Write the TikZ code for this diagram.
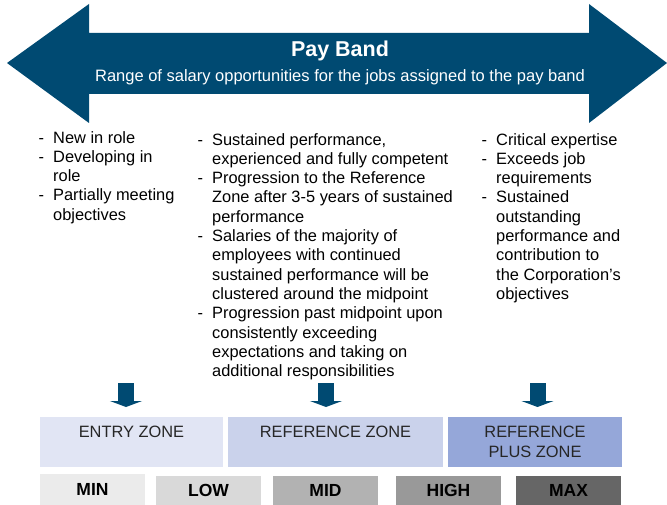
\documentclass[tikz,border=0pt]{standalone}
\usepackage{fontspec}
\setmainfont{Liberation Sans}
\usetikzlibrary{arrows.meta}
\definecolor{bandblue}{HTML}{004A72}
\definecolor{entryfill}{HTML}{E1E5F4}
\definecolor{reffill}{HTML}{CAD2EB}
\definecolor{plusfill}{HTML}{95A7D9}
\newcommand{\dsh}{\llap{-\hspace{9pt}}}

\begin{document}
\begin{tikzpicture}[x=1pt, y=-1pt,
  txt/.style = {anchor=north west, align=left, inner sep=0pt, font=\fontsize{16.4}{19.3}\selectfont},
  zone/.style = {minimum height=50pt, inner sep=0pt, align=center, text=black!85, font=\fontsize{16.4}{20}\selectfont},
  pt/.style = {minimum height=29pt, inner sep=0pt, font=\bfseries\fontsize{17.5}{20}\selectfont},
  downarrow/.style = {bandblue, line width=16pt, -{Triangle[width=32pt, length=6pt]}}]
\useasboundingbox (0,0) rectangle (667,505);

\fill[bandblue] (7,63) -- (89,4) -- (89,33) -- (589,33) -- (589,4) -- (667,63)
  -- (589,123) -- (589,94) -- (89,94) -- (89,123) -- cycle;
\node[text=white, font=\bfseries\fontsize{21.5}{24}\selectfont] (title) at (340,51) {Pay Band};
\node[text=white, font=\fontsize{16.5}{20}\selectfont] (subtitle) at (340,77) {Range of salary opportunities for the jobs assigned to the pay band};

\node[txt] (col_entry) at (53,131) {\dsh New in role\\ \dsh Developing in\\ role\\ \dsh Partially meeting\\ objectives};
\node[txt] (col_ref) at (212,133) {\dsh Sustained performance,\\ experienced and fully competent\\
  \dsh Progression to the Reference\\ Zone after 3-5 years of sustained\\ performance\\
  \dsh Salaries of the majority of\\ employees with continued\\ sustained performance will be\\ clustered around the midpoint\\
  \dsh Progression past midpoint upon\\ consistently exceeding\\ expectations and taking on\\ additional responsibilities};
\node[txt] (col_plus) at (496,133) {\dsh Critical expertise\\ \dsh Exceeds job\\ requirements\\ \dsh Sustained\\ outstanding\\ performance and\\ contribution to\\ the Corporation’s\\ objectives};

\node[zone, fill=entryfill, minimum width=183pt] (entry) at (131.5,442) {ENTRY ZONE\\\mbox{}};
\node[zone, fill=reffill, minimum width=215pt] (reference) at (335.5,442) {REFERENCE ZONE\\\mbox{}};
\node[zone, fill=plusfill, minimum width=174pt] (refplus) at (535,442) {REFERENCE\\PLUS ZONE};

\coordinate (a_entry) at (126,383);
\coordinate (a_ref) at (326,383);
\coordinate (a_plus) at (537.5,383);
\draw[downarrow] (a_entry) -- ++(0,24);
\draw[downarrow] (a_ref) -- ++(0,24);
\draw[downarrow] (a_plus) -- ++(0,24);

\node[pt, fill=black!8, minimum width=105pt, minimum height=31pt] (min) at (92.5,489.5) {MIN};
\node[pt, fill=black!15, minimum width=105pt] (low) at (208.5,490.5) {LOW};
\node[pt, fill=black!30, minimum width=105pt] (mid) at (325.5,490.5) {MID};
\node[pt, fill=black!40, minimum width=105pt] (high) at (448.5,490.5) {HIGH};
\node[pt, fill=black!60, minimum width=105pt] (max) at (568.5,490.5) {MAX};
\end{tikzpicture}
\end{document}
